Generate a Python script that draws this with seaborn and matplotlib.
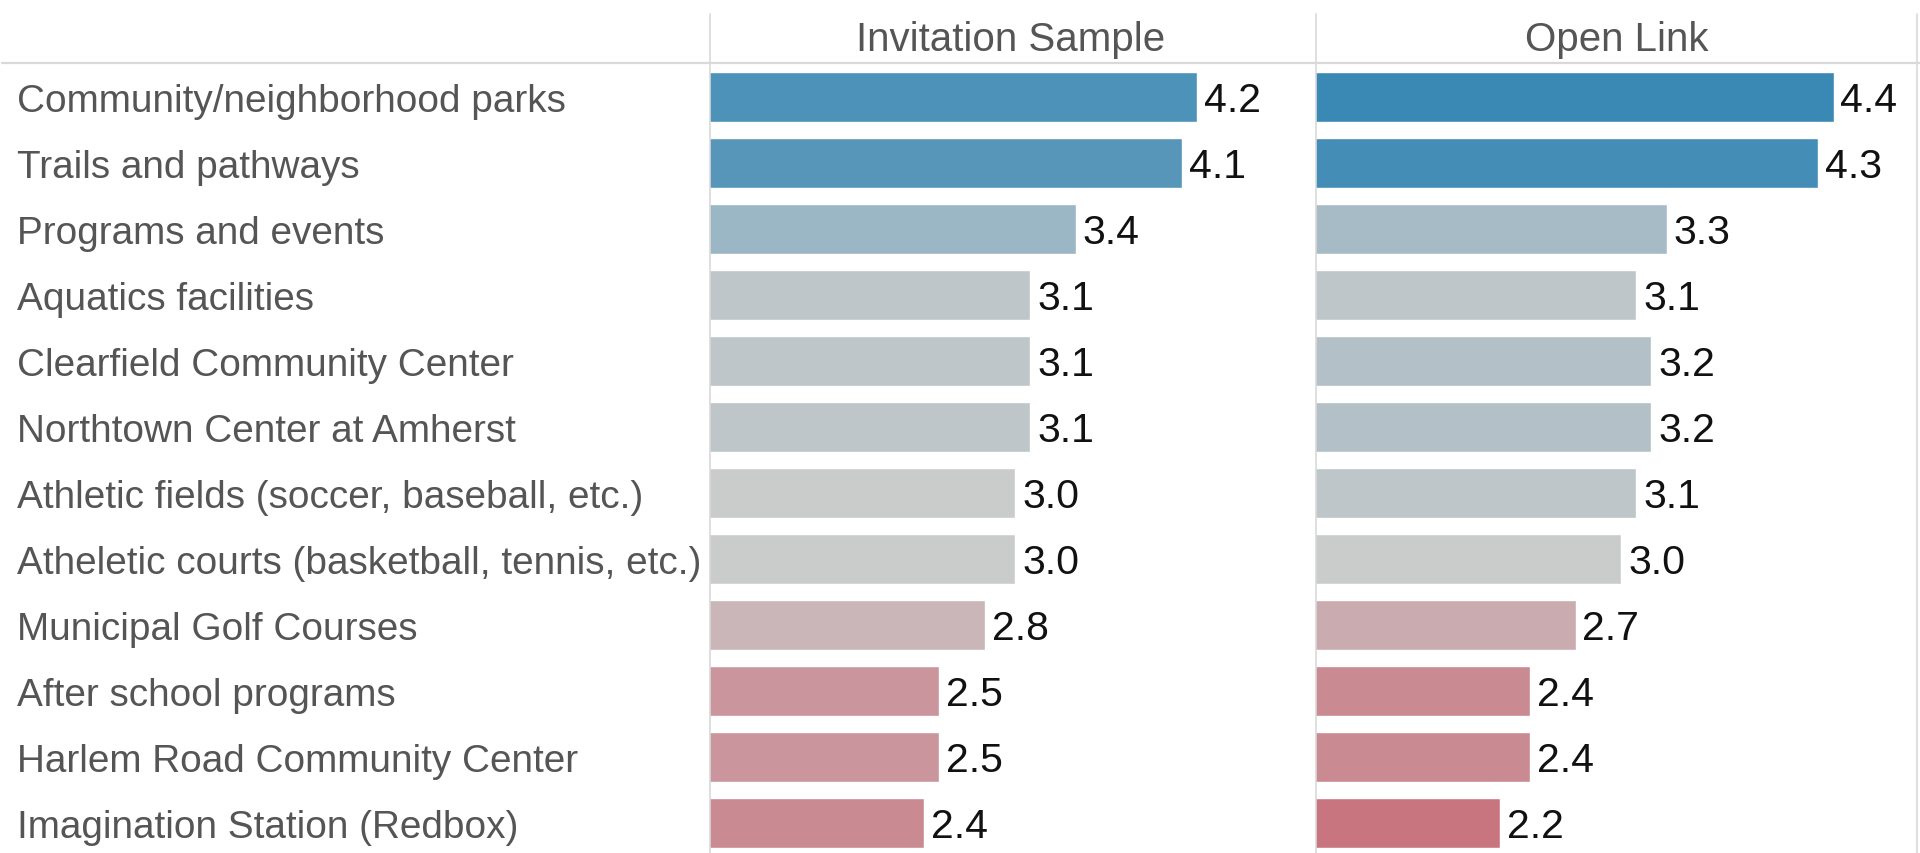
import matplotlib
matplotlib.use("Agg")
import matplotlib.pyplot as plt
import seaborn as sns
import pandas as pd
from matplotlib.colors import LinearSegmentedColormap, TwoSlopeNorm
from matplotlib.lines import Line2D

# Average ratings per facility / program
categories = [
    "Community/neighborhood parks",
    "Trails and pathways",
    "Programs and events",
    "Aquatics facilities",
    "Clearfield Community Center",
    "Northtown Center at Amherst",
    "Athletic fields (soccer, baseball, etc.)",
    "Atheletic courts (basketball, tennis, etc.)",
    "Municipal Golf Courses",
    "After school programs",
    "Harlem Road Community Center",
    "Imagination Station (Redbox)",
]
invitation_sample = [4.2, 4.1, 3.4, 3.1, 3.1, 3.1, 3.0, 3.0, 2.8, 2.5, 2.5, 2.4]
open_link = [4.4, 4.3, 3.3, 3.1, 3.2, 3.2, 3.1, 3.0, 2.7, 2.4, 2.4, 2.2]
panel_titles = ["Invitation Sample", "Open Link"]

sns.set_theme(style="white")
plt.rcParams["font.family"] = ["Liberation Sans", "DejaVu Sans"]

W, H = 1920, 854
fig = plt.figure(figsize=(W / 100, H / 100), dpi=100)

# red - grey - blue diverging colour scale centred on 3.0
cmap = LinearSegmentedColormap.from_list(
    "rd_gy_bu",
    [(0.0, "#c97580"), (0.5, "#cbcbcb"), (0.643, "#9bb6c4"), (1.0, "#3a89b5")],
)
norm = TwoSlopeNorm(vmin=2.2, vcenter=3.0, vmax=4.4)

TEXT_GREY = "#555555"
RULE = "#d9d9d9"
panel_left = [710, 1316]
panel_w = 601
top_px, bottom_px = 65, 857

for i, (title, vals) in enumerate(zip(panel_titles, [invitation_sample, open_link])):
    ax = fig.add_axes([panel_left[i] / W, 1 - bottom_px / H,
                       panel_w / W, (bottom_px - top_px) / H])
    df = pd.DataFrame({"item": categories, "score": vals})
    sns.barplot(data=df, y="item", x="score", hue="item",
                palette=[cmap(norm(v)) for v in vals], orient="h",
                width=0.76, saturation=1, legend=False, ax=ax)
    for cont in ax.containers:
        labels = ax.bar_label(cont, fmt="%.1f", padding=5, fontsize=29.5,
                              color="#111111")
        for t in labels:
            t.xyann = (5, -2.5)
    ax.set_xlim(0.99, 4.95)
    ax.set_ylim(11.5, -0.5)
    ax.set_xlabel("")
    ax.set_ylabel("")
    ax.set_xticks([])
    for s in ax.spines.values():
        s.set_visible(False)
    ax.patch.set_alpha(0)
    if i == 0:
        ax.set_yticks(range(len(categories)))
        ax.set_yticklabels(categories, ha="left", fontsize=27.9, color=TEXT_GREY)
        ax.tick_params(axis="y", length=0, pad=(panel_left[0] - 17) * 0.72)
    else:
        ax.set_yticks([])
    fig.text((panel_left[i] + panel_w / 2) / W, 1 - 40 / H, title,
             ha="center", va="center", fontsize=29, color=TEXT_GREY)

# header rule and panel separators
fig.add_artist(Line2D([2 / W, 1], [1 - 64 / H, 1 - 64 / H], color=RULE, lw=1.6))
for xp in [710, 1316, 1917]:
    fig.add_artist(Line2D([xp / W, xp / W], [1 - 15 / H, 0], color=RULE, lw=1.2))

fig.savefig("out.png", dpi=100, facecolor="white")
